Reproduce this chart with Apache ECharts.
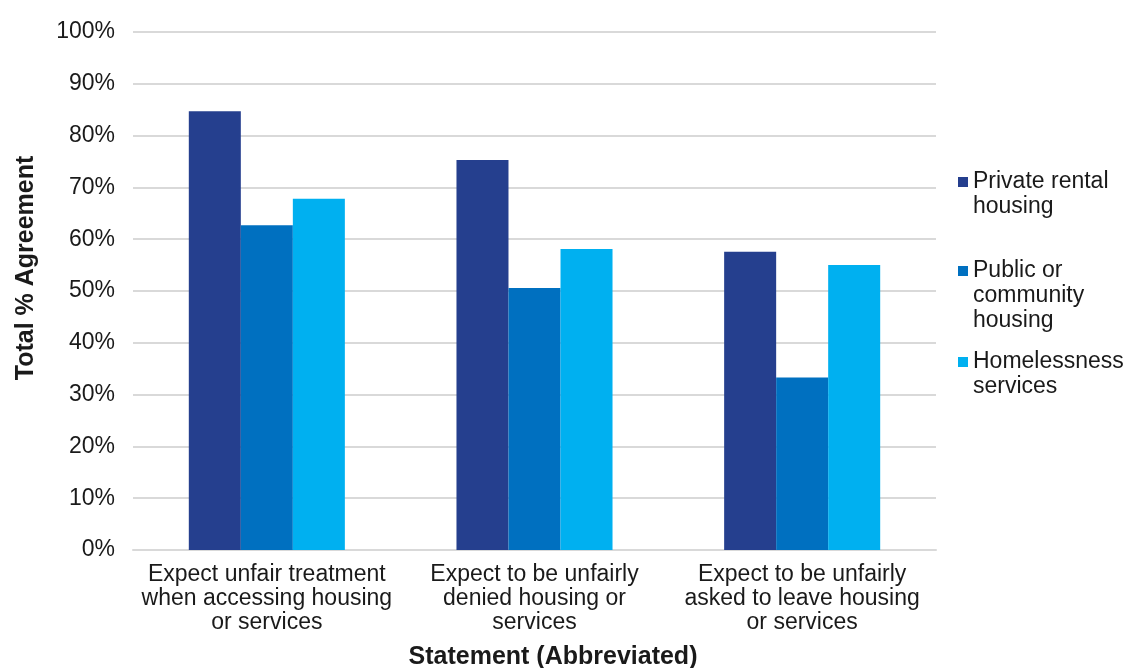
<!DOCTYPE html>
<html>
<head>
<meta charset="utf-8">
<script src="https://cdn.jsdelivr.net/npm/echarts@6/dist/echarts.min.js"></script>
<style>html,body{margin:0;padding:0;background:#fff}#c{width:1132px;height:668px}</style>
</head>
<body>
<div id="c"></div>
<script>
const categories = [
  "Expect unfair treatment\nwhen accessing housing\nor services",
  "Expect to be unfairly\ndenied housing or\nservices",
  "Expect to be unfairly\nasked to leave housing\nor services"
];
const seriesNames = ["Private rental housing", "Public or community housing", "Homelessness services"];
const legendLabels = ["Private rental\nhousing", "Public or\ncommunity\nhousing", "Homelessness\nservices"];
const privateRental = [84.7, 75.3, 57.6];
const publicCommunity = [62.7, 50.6, 33.3];
const homelessness = [67.8, 58.1, 55.0];
const colors = ["#253F8E", "#0070C0", "#00B0F0"];
const yTicks = { min: 0, max: 100, interval: 10 };
const xTitle = "Statement (Abbreviated)";
const yTitle = "Total % Agreement";

const FONT = "'Liberation Sans', Arial, Helvetica, sans-serif";
const LH = 25;
// first-line centres of legend items
const legendCenters = [182, 271, 362];

const chart = echarts.init(document.getElementById('c'), null, { renderer: 'canvas' });
const values = [privateRental, publicCommunity, homelessness];

chart.setOption({
  animation: false,
  color: colors,
  grid: { left: 133, right: 196, top: 32, bottom: 118, containLabel: false },
  legend: seriesNames.map((n, i) => {
    const lines = legendLabels[i].split("\n").length;
    // pad with empty lines above so the icon sits on the first text line
    const txt = "\n".repeat(lines - 1) + legendLabels[i];
    const total = 2 * lines - 1;
    return {
      orient: 'vertical',
      left: 958,
      top: legendCenters[i] - total * LH / 2,
      padding: 0,
      itemWidth: 10,
      itemHeight: 10,
      itemGap: 0,
      icon: 'rect',
      selectedMode: false,
      data: [n],
      formatter: () => txt,
      textStyle: { fontFamily: FONT, fontSize: 23, color: '#1a1a1a', lineHeight: LH }
    };
  }),
  xAxis: {
    type: 'category',
    data: categories,
    axisLine: { show: true, lineStyle: { color: '#d9d9d9', width: 2 } },
    axisTick: { show: false },
    axisLabel: { fontFamily: FONT, fontSize: 23, color: '#1a1a1a', lineHeight: 24, margin: 13, interval: 0 }
  },
  yAxis: {
    type: 'value',
    min: yTicks.min, max: yTicks.max, interval: yTicks.interval,
    axisLine: { show: false },
    axisTick: { show: false },
    splitLine: { lineStyle: { color: '#d9d9d9', width: 2 } },
    axisLabel: { formatter: '{value}%', fontFamily: FONT, fontSize: 23, color: '#1a1a1a', margin: 18 }
  },
  graphic: [
    {
      type: 'text', x: 553, y: 657,
      style: { text: xTitle, font: "bold 25px " + FONT, fill: '#1a1a1a', align: 'center', verticalAlign: 'middle' }
    },
    {
      type: 'text', x: 26, y: 268, rotation: Math.PI / 2,
      style: { text: yTitle, font: "bold 25px " + FONT, fill: '#1a1a1a', align: 'center', verticalAlign: 'middle' }
    }
  ],
  series: seriesNames.map((n, i) => ({
    name: n,
    type: 'bar',
    data: values[i],
    barGap: '0%',
    barCategoryGap: '41.7%',
    itemStyle: { color: colors[i] }
  }))
});
</script>
</body>
</html>
